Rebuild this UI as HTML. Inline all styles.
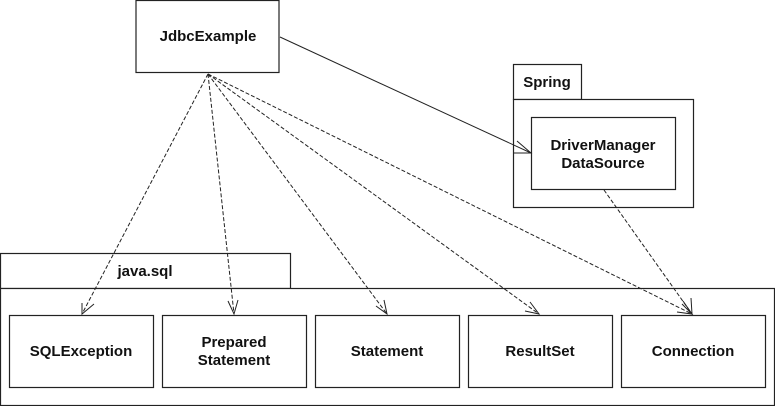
<!DOCTYPE html>
<html><head><style>
body{margin:0;background:#fff;}
svg text{font-family:"Liberation Sans",Arial,sans-serif;font-weight:bold;font-size:15px;fill:#111;text-anchor:middle;}
</style></head><body>
<svg width="775" height="406" viewBox="0 0 775 406" xmlns="http://www.w3.org/2000/svg">
<g fill="#fff" stroke="#222" stroke-width="1.2">
<rect x="136" y="0.5" width="143" height="72"/>
<rect x="0.5" y="253.5" width="290" height="35"/>
<rect x="0.5" y="288.5" width="774" height="117"/>
<rect x="9.5" y="315.5" width="144" height="72"/>
<rect x="162.5" y="315.5" width="144" height="72"/>
<rect x="315.5" y="315.5" width="144" height="72"/>
<rect x="468.5" y="315.5" width="144" height="72"/>
<rect x="621.5" y="315.5" width="144" height="72"/>
<rect x="513.5" y="64.5" width="68" height="35"/>
<rect x="513.5" y="99.5" width="180" height="108"/>
<rect x="531.5" y="117.5" width="144" height="72"/>
</g>
<text x="208" y="41">JdbcExample</text>
<text x="145" y="276">java.sql</text>
<text x="547" y="87">Spring</text>
<text x="603" y="150">DriverManager</text>
<text x="603" y="168">DataSource</text>
<text x="81" y="356">SQLException</text>
<text x="234" y="347">Prepared</text>
<text x="234" y="365">Statement</text>
<text x="387" y="356">Statement</text>
<text x="540" y="356">ResultSet</text>
<text x="693" y="356">Connection</text>
<g stroke="#222" stroke-width="1" fill="none">
<line x1="280" y1="37" x2="531" y2="153"/>
<polyline points="517,141 531,153 513,153"/>
<g stroke-dasharray="4,2">
<line x1="208" y1="74" x2="82" y2="314"/>
<line x1="208" y1="74" x2="234" y2="314"/>
<line x1="208" y1="74" x2="387" y2="314"/>
<line x1="208" y1="74" x2="539" y2="314"/>
<line x1="208" y1="74" x2="692" y2="314"/>
<line x1="604" y1="190" x2="692" y2="314"/>
</g>
<polyline points="82,303 82,314 94,304"/>
<polyline points="228,301 234,314 238,300"/>
<polyline points="376,306 387,314 384,300"/>
<polyline points="525,311 539,314 530,302"/>
<polyline points="677,312 692,314 682,304"/>
<polyline points="683,301 692,314 691,298"/>
</g>
</svg>
</body></html>
